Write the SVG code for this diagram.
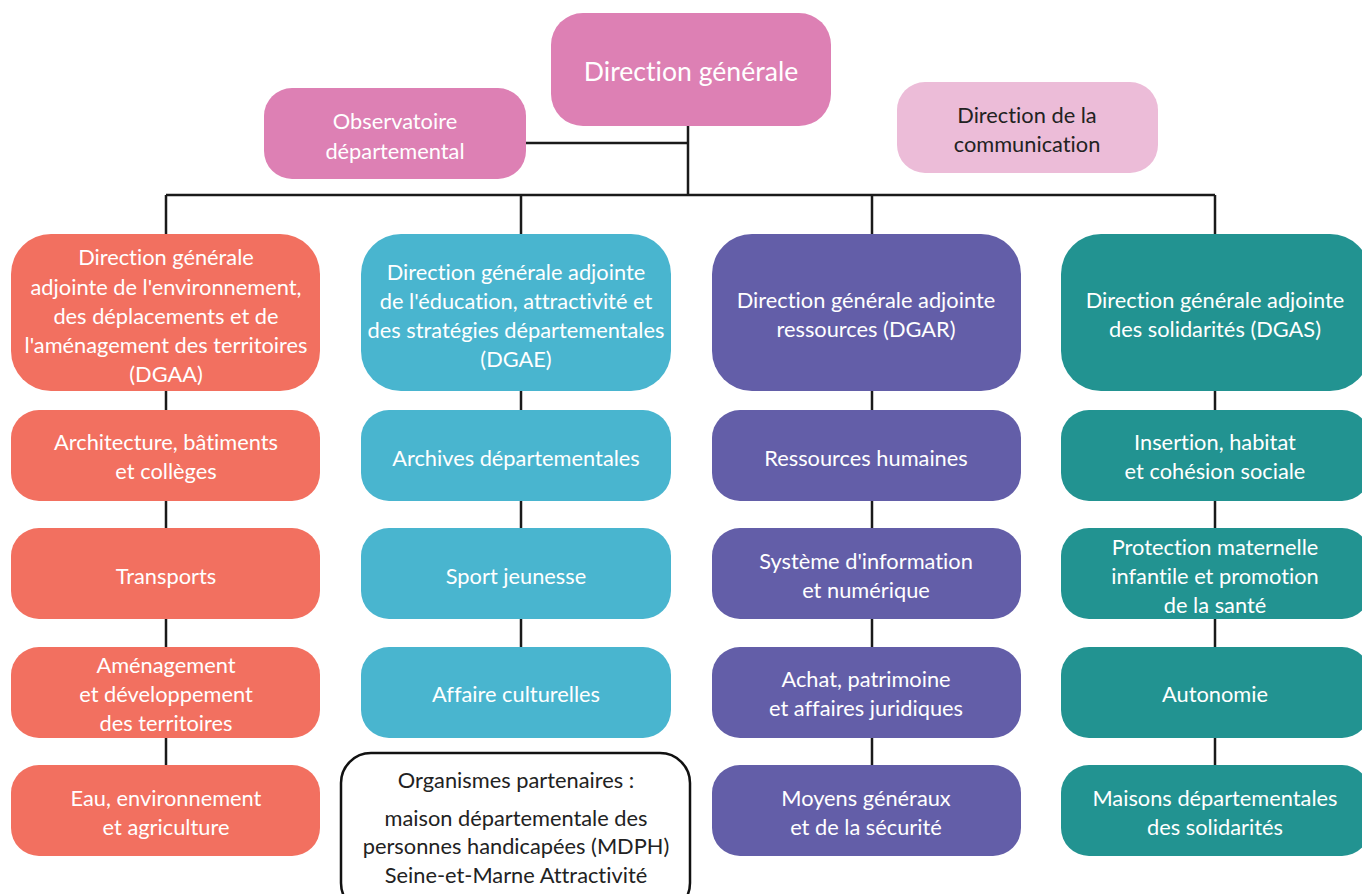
<svg xmlns="http://www.w3.org/2000/svg" width="1362" height="894" viewBox="0 0 1362 894">
<style>
text{font-family:Lato,"Open Sans","Liberation Sans",sans-serif;font-size:21.8px;text-anchor:middle;dominant-baseline:central;fill:#fff;font-variant-ligatures:none}
.dk{fill:#222}
.pk{fill:#dd80b4}.lp{fill:#ecbcd8}.co{fill:#f27060}.cy{fill:#49b5cf}.pu{fill:#635ea8}.te{fill:#229391}
.ln{stroke:#1a1a1a;stroke-width:2.5;fill:none}
</style>
<rect width="1362" height="894" fill="#fff"/>
<g id="connectors" class="ln">
<path d="M688 126V195M526 143H688M166 195H1215M166 195V236M521 195V236M872 195V236M1215 195V236"/>
<path d="M166 390V765M521 390V650M872 390V765M1215 390V765"/>
</g>
<g id="dg"><rect class="pk" x="551" y="13" width="280" height="113" rx="32"/><text x="691" y="71" style="font-size:26.6px">Direction générale</text></g>
<g id="obs"><rect class="pk" x="264" y="88" width="262" height="91" rx="28"/><text x="395" y="120">Observatoire</text><text x="395" y="150">départemental</text></g>
<g id="com"><rect class="lp" x="897" y="82" width="261" height="91" rx="28"/><text class="dk" x="1027" y="114">Direction de la</text><text class="dk" x="1027" y="143">communication</text></g>

<g id="dgaa"><rect class="co" x="11" y="234" width="309" height="157" rx="40"/><text x="166" y="256">Direction générale</text><text x="166" y="286">adjointe de l'environnement,</text><text x="166" y="315">des déplacements et de</text><text x="166" y="344">l'aménagement des territoires</text><text x="166" y="373">(DGAA)</text></g>
<g id="archi"><rect class="co" x="11" y="410" width="309" height="91" rx="28"/><text x="166" y="441">Architecture, bâtiments</text><text x="166" y="470">et collèges</text></g>
<g id="transports"><rect class="co" x="11" y="528" width="309" height="91" rx="28"/><text x="166" y="575">Transports</text></g>
<g id="amenag"><rect class="co" x="11" y="647" width="309" height="91" rx="28"/><text x="166" y="664">Aménagement</text><text x="166" y="693">et développement</text><text x="166" y="722">des territoires</text></g>
<g id="eau"><rect class="co" x="11" y="765" width="309" height="91" rx="28"/><text x="166" y="797">Eau, environnement</text><text x="166" y="826">et agriculture</text></g>

<g id="dgae"><rect class="cy" x="361" y="234" width="310" height="157" rx="40"/><text x="516" y="271">Direction générale adjointe</text><text x="516" y="300">de l'éducation, attractivité et</text><text x="516" y="329">des stratégies départementales</text><text x="516" y="358">(DGAE)</text></g>
<g id="archives"><rect class="cy" x="361" y="410" width="310" height="91" rx="28"/><text x="516" y="457">Archives départementales</text></g>
<g id="sport"><rect class="cy" x="361" y="528" width="310" height="91" rx="28"/><text x="516" y="575">Sport jeunesse</text></g>
<g id="culture"><rect class="cy" x="361" y="647" width="310" height="91" rx="28"/><text x="516" y="693">Affaire culturelles</text></g>
<g id="partenaires"><rect x="341" y="753" width="349" height="160" rx="30" fill="#fff" stroke="#111" stroke-width="2.5"/><text class="dk" x="516" y="779">Organismes partenaires :</text><text class="dk" x="516" y="817">maison départementale des</text><text class="dk" x="516" y="845">personnes handicapées (MDPH)</text><text class="dk" x="516" y="874">Seine-et-Marne Attractivité</text></g>

<g id="dgar"><rect class="pu" x="712" y="234" width="309" height="157" rx="40"/><text x="866" y="299">Direction générale adjointe</text><text x="866" y="328">ressources (DGAR)</text></g>
<g id="rh"><rect class="pu" x="712" y="410" width="309" height="91" rx="28"/><text x="866" y="457">Ressources humaines</text></g>
<g id="si"><rect class="pu" x="712" y="528" width="309" height="91" rx="28"/><text x="866" y="560">Système d'information</text><text x="866" y="589">et numérique</text></g>
<g id="achat"><rect class="pu" x="712" y="647" width="309" height="91" rx="28"/><text x="866" y="678">Achat, patrimoine</text><text x="866" y="707">et affaires juridiques</text></g>
<g id="moyens"><rect class="pu" x="712" y="765" width="309" height="91" rx="28"/><text x="866" y="797">Moyens généraux</text><text x="866" y="826">et de la sécurité</text></g>

<g id="dgas"><rect class="te" x="1061" y="234" width="309" height="157" rx="40"/><text x="1215" y="299">Direction générale adjointe</text><text x="1215" y="328">des solidarités (DGAS)</text></g>
<g id="insertion"><rect class="te" x="1061" y="410" width="309" height="91" rx="28"/><text x="1215" y="441">Insertion, habitat</text><text x="1215" y="470">et cohésion sociale</text></g>
<g id="pmi"><rect class="te" x="1061" y="528" width="309" height="91" rx="28"/><text x="1215" y="546">Protection maternelle</text><text x="1215" y="575">infantile et promotion</text><text x="1215" y="604">de la santé</text></g>
<g id="autonomie"><rect class="te" x="1061" y="647" width="309" height="91" rx="28"/><text x="1215" y="693">Autonomie</text></g>
<g id="maisons"><rect class="te" x="1061" y="765" width="309" height="91" rx="28"/><text x="1215" y="797">Maisons départementales</text><text x="1215" y="826">des solidarités</text></g>
</svg>
